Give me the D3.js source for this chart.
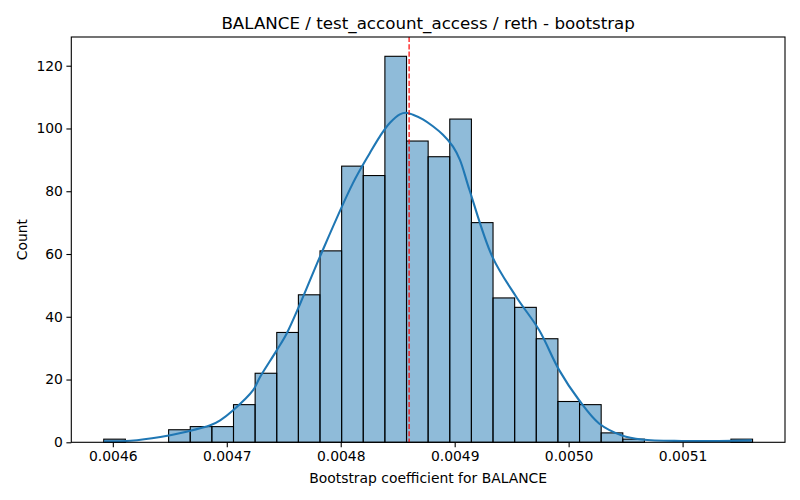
<!DOCTYPE html>
<html>
<head>
<meta charset="utf-8">
<script src="https://cdn.jsdelivr.net/npm/d3@7"></script>
<style>
  body { margin: 0; background: #fff; }
  text { font-family: "DejaVu Sans", sans-serif; fill: #000; }
</style>
</head>
<body>
<div id="chart"></div>
<script>
const width = 800;
const height = 500;
const margin = ({top: 37, right: 15, bottom: 57.7, left: 71.3});

// histogram: 30 equal bins between the bootstrap min and max
const binStart = 0.00459203;
const binEnd = 0.0051614;
const counts = [1, 0, 0, 4, 5, 5, 12, 22, 35, 47, 61, 88, 85, 123, 96,
                91, 103, 70, 46, 43, 33, 13, 12, 3, 1, 0, 0, 0, 0, 1];

// kde curve (x value, count)
const kdeX = [0.0045922, 0.0046155, 0.0046417, 0.0046636, 0.0046855, 0.0046942,
              0.0047056, 0.0047231, 0.0047292, 0.0047438, 0.0047526, 0.0047642,
              0.0047817, 0.0048106, 0.0048256, 0.0048344, 0.0048432, 0.0048519,
              0.0048572, 0.0048634, 0.0048721, 0.0048809, 0.0048897, 0.0048984,
              0.0049046, 0.0049130, 0.0049331, 0.0049541, 0.0049742, 0.0049917,
              0.0050092, 0.0050267, 0.0050468, 0.0050643, 0.0050993, 0.0051317,
              0.0051606];
const kdeY = [0.3, 0.5, 1.7, 3.3, 5.4, 7.0,
              10.2, 16.6, 20.8, 29.3, 34.7, 44,
              59.1, 82.5, 92.2, 97.5, 101.8, 104.5,
              105, 104.4, 102.9, 100.7, 98, 94.3,
              90, 80.4, 59.1, 46.3, 35.7, 23,
              13.4, 6, 2.2, 0.9, 0.4, 0.4,
              0.6];

const meanValue = 0.00486;
const xTicks = [0.0046, 0.0047, 0.0048, 0.0049, 0.0050, 0.0051];
const yTicks = [0, 20, 40, 60, 80, 100, 120];

const binW = (binEnd - binStart) / counts.length;
const bins = counts.map((c, i) => ({x0: binStart + i * binW, x1: binStart + (i + 1) * binW, n: c}));
const kde = kdeX.map((x, i) => [x, kdeY[i]]);

const pad = (binEnd - binStart) * 0.05;
const x = d3.scaleLinear()
  .domain([binStart - pad, binEnd + pad])
  .range([margin.left, width - margin.right]);

const y = d3.scaleLinear()
  .domain([0, d3.max(counts) * 1.05])
  .range([height - margin.bottom, margin.top]);

const svg = d3.select("#chart")
  .append("svg")
  .attr("width", width)
  .attr("height", height);

svg.append("g")
  .selectAll("rect")
  .data(bins.filter(d => d.n > 0))
  .join("rect")
    .attr("x", d => x(d.x0))
    .attr("y", d => y(d.n))
    .attr("width", d => x(d.x1) - x(d.x0))
    .attr("height", d => y(0) - y(d.n))
    .attr("fill", "#1f77b4")
    .attr("fill-opacity", 0.5)
    .attr("stroke", "#000")
    .attr("stroke-width", 1.1);

const line = d3.line()
  .curve(d3.curveCatmullRom.alpha(0.5))
  .x(d => x(d[0]))
  .y(d => y(d[1]));

svg.append("path")
  .datum(kde)
  .attr("fill", "none")
  .attr("stroke", "#1f77b4")
  .attr("stroke-width", 2.1)
  .attr("stroke-linejoin", "round")
  .attr("d", line);

svg.append("line")
  .attr("x1", x(meanValue)).attr("x2", x(meanValue))
  .attr("y1", margin.top).attr("y2", height - margin.bottom)
  .attr("stroke", "#ff0000")
  .attr("stroke-width", 1.2)
  .attr("stroke-dasharray", "5.1,2.2");

// axes
const xAxis = g => g
  .attr("transform", `translate(0,${height - margin.bottom})`)
  .call(d3.axisBottom(x).tickValues(xTicks).tickFormat(d3.format(".4f")).tickSize(4.9).tickPadding(3.5))
  .call(g => g.select(".domain").remove())
  .call(g => g.selectAll(".tick line").attr("stroke-width", 1.1))
  .call(g => g.selectAll("text").attr("font-size", 13.9).attr("font-family", "DejaVu Sans"));

const yAxis = g => g
  .attr("transform", `translate(${margin.left},0)`)
  .call(d3.axisLeft(y).tickValues(yTicks).tickSize(4.9).tickPadding(3.5))
  .call(g => g.select(".domain").remove())
  .call(g => g.selectAll(".tick line").attr("stroke-width", 1.1))
  .call(g => g.selectAll("text").attr("font-size", 13.9).attr("font-family", "DejaVu Sans"));

svg.append("g").call(xAxis);
svg.append("g").call(yAxis);

svg.append("rect")
  .attr("x", margin.left)
  .attr("y", margin.top)
  .attr("width", width - margin.right - margin.left)
  .attr("height", height - margin.bottom - margin.top)
  .attr("fill", "none")
  .attr("stroke", "#000")
  .attr("stroke-width", 1.1);

svg.append("text")
  .attr("x", (margin.left + width - margin.right) / 2)
  .attr("y", 29)
  .attr("text-anchor", "middle")
  .attr("font-size", 16.7)
  .text("BALANCE / test_account_access / reth - bootstrap");

svg.append("text")
  .attr("x", (margin.left + width - margin.right) / 2)
  .attr("y", 483)
  .attr("text-anchor", "middle")
  .attr("font-size", 13.9)
  .text("Bootstrap coefficient for BALANCE");

svg.append("text")
  .attr("transform", `translate(27,${(margin.top + height - margin.bottom) / 2}) rotate(-90)`)
  .attr("text-anchor", "middle")
  .attr("font-size", 13.9)
  .text("Count");
</script>
</body>
</html>
